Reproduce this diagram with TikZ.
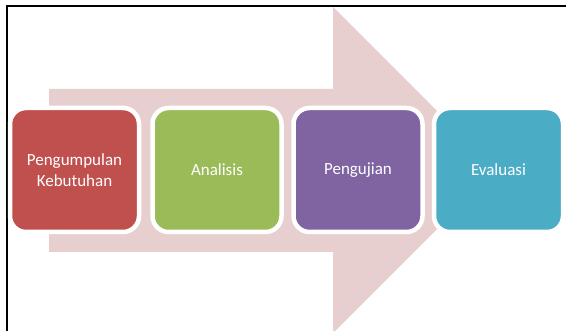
\documentclass[tikz,border=0pt]{standalone}
\usepackage{fontspec}
\setmainfont{Carlito}
\definecolor{arrowpink}{RGB}{231,207,207}
\definecolor{cred}{RGB}{192,80,77}
\definecolor{cgreen}{RGB}{155,187,89}
\definecolor{cpurple}{RGB}{128,100,162}
\definecolor{cteal}{RGB}{75,172,198}
\begin{document}
\begin{tikzpicture}[x=1pt,y=-1pt,
  stage/.style={draw=white,line width=4.5pt,rounded corners=16pt,minimum width=129pt,minimum height=124pt,
    inner sep=0pt,text=white,align=center,font=\fontsize{17}{21}\selectfont}]
\useasboundingbox (0,0) rectangle (566,331);
\fill[white] (0,0) rectangle (566,331);
% frame
\draw[line width=2pt] (6.5,331) -- (6.5,6.5) -- (566,6.5);
% big arrow
\fill[arrowpink] (49,89) -- (333,89) -- (333,7) -- (496,170) -- (333,333) -- (333,252) -- (49,252) -- cycle;
% stages
\node[stage,fill=cred] (s1) at (74.5,170) {Pengumpulan\\Kebutuhan};
\node[stage,fill=cgreen] (s2) at (217,170) {Analisis};
\node[stage,fill=cpurple] (s3) at (358,170) {Pengujian};
\node[stage,fill=cteal] (s4) at (498.5,170) {Evaluasi};
\end{tikzpicture}
\end{document}
